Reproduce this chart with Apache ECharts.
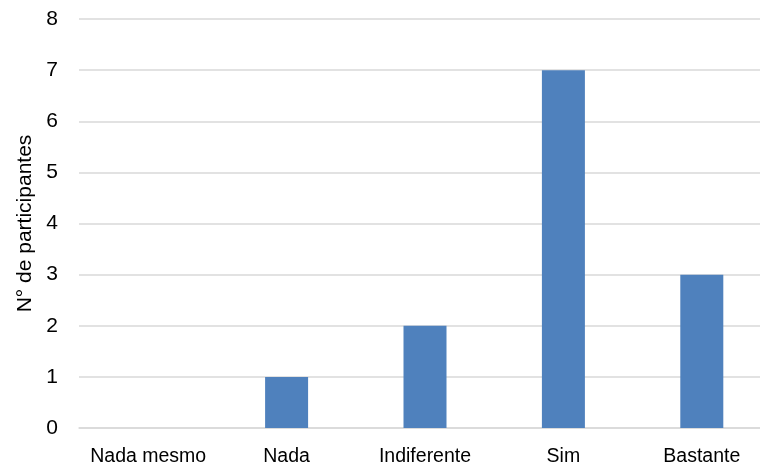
<!DOCTYPE html>
<html>
<head>
<meta charset="utf-8">
<script src="https://cdn.jsdelivr.net/npm/echarts@6/dist/echarts.min.js"></script>
<style>
  html, body { margin: 0; padding: 0; background: #ffffff; }
  #chart { width: 760px; height: 468px; }
</style>
</head>
<body>
<div id="chart"></div>
<script>
// Responses per answer option
const categories = ['Nada mesmo', 'Nada', 'Indiferente', 'Sim', 'Bastante'];
const participants = [0, 1, 2, 7, 3];
const yTicks = [0, 1, 2, 3, 4, 5, 6, 7, 8];

const chart = echarts.init(document.getElementById('chart'), null, { renderer: 'canvas' });

chart.setOption({
  animation: false,
  backgroundColor: '#ffffff',
  grid: {
    left: 79, width: 692, top: 19, bottom: 40,
    containLabel: false,
    outerBoundsMode: 'none'
  },
  xAxis: {
    type: 'category',
    data: categories,
    axisLine: { show: true, lineStyle: { color: '#d9d9d9', width: 1.5 } },
    axisTick: { show: false },
    axisLabel: {
      interval: 0,
      color: '#000000',
      fontFamily: 'Liberation Sans',
      fontSize: 19.5,
      margin: 19
    }
  },
  yAxis: {
    type: 'value',
    min: yTicks[0],
    max: yTicks[yTicks.length - 1],
    interval: 1,
    name: 'N° de participantes',
    nameLocation: 'middle',
    nameGap: 43,
    nameTextStyle: {
      color: '#000000',
      fontFamily: 'Liberation Sans',
      fontSize: 21
    },
    axisLine: { show: false },
    axisTick: { show: false },
    splitLine: { lineStyle: { color: '#d9d9d9', width: 1.5 } },
    axisLabel: {
      color: '#000000',
      fontFamily: 'Liberation Sans',
      fontSize: 21,
      margin: 21
    }
  },
  series: [{
    type: 'bar',
    data: participants,
    barWidth: 43,
    itemStyle: { color: '#4f81bd' }
  }]
});
</script>
</body>
</html>
